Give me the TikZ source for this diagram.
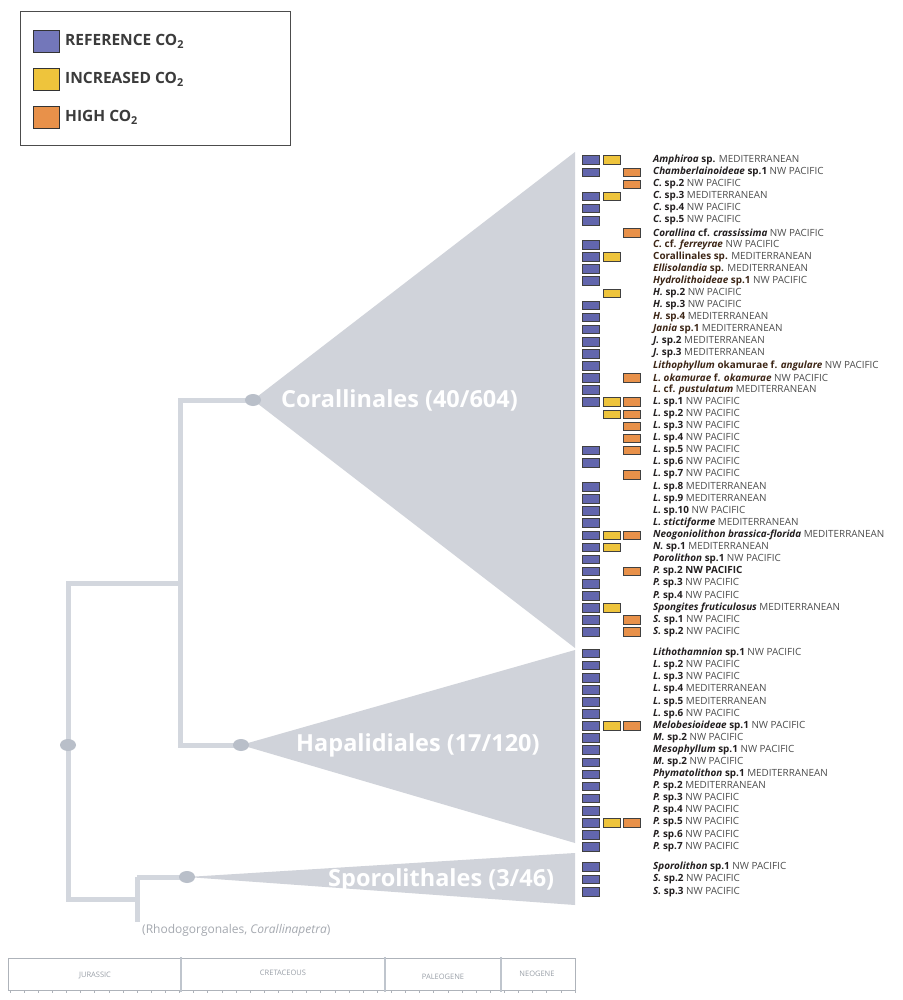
\documentclass[tikz,border=0pt]{standalone}
\usepackage{fontspec}
\setmainfont{Open Sans}
\usetikzlibrary{shapes.geometric}
\definecolor{refblue}{HTML}{6266AD}
\definecolor{legblue}{HTML}{7377BA}
\definecolor{incyel}{HTML}{EEC43C}
\definecolor{highor}{HTML}{E8914A}
\definecolor{treeline}{HTML}{D3D7DE}
\definecolor{tri}{HTML}{D0D3DA}
\definecolor{dotc}{HTML}{B9BFC9}
\definecolor{namec}{HTML}{231F20}
\definecolor{brownc}{HTML}{3D2616}
\definecolor{regc}{HTML}{4D4D4D}
\definecolor{legtext}{HTML}{3B3B3B}
\definecolor{tlc}{HTML}{AEB3BA}
\definecolor{tltext}{HTML}{9AA0A8}
\definecolor{rhodoc}{HTML}{A5A9B0}
\newcommand{\gI}[1]{\textbf{\textit{#1}}}
\newcommand{\sB}[1]{\textbf{#1}}
\newcommand{\rG}[1]{{\color{regc}#1}}
\newcommand{\brn}{\color{brownc}}
\newcommand{\sprow}[6]{%
  \ifnum#3=1 \node[refbox] (b#1) at (590.5,{#2}) {};\fi
  \ifnum#4=1 \node[incbox] (y#1) at (611.5,{#2}) {};\fi
  \ifnum#5=1 \node[highbox] (o#1) at (632,{#2}) {};\fi
  \node[spname] (t#1) at (653,{#2}) {#6};}
\tikzset{
  cbox/.style={draw=black!75, line width=0.5pt, minimum width=17pt, minimum height=8.6pt, inner sep=0pt},
  refbox/.style={cbox, fill=refblue},
  incbox/.style={cbox, fill=incyel},
  highbox/.style={cbox, fill=highor},
  legsq/.style={draw=black!80, line width=0.6pt, minimum width=26pt, minimum height=22pt, inner sep=0pt},
  legtxt/.style={anchor=west, inner sep=0pt, text=legtext, font=\fontsize{15.5}{17}\selectfont\bfseries},
  spname/.style={anchor=west, inner sep=0pt, text=namec, font=\fontsize{9.9}{11}\selectfont},
  tree/.style={draw=treeline, line width=5pt},
  cdot/.style={ellipse, fill=dotc, minimum width=16pt, minimum height=12pt, inner sep=0pt},
  cladelbl/.style={anchor=west, inner sep=0pt, text=white, font=\fontsize{23.5}{26}\selectfont\bfseries},
  tllbl/.style={inner sep=0pt, text=tltext, font=\fontsize{7.5}{8}\selectfont},
}
\begin{document}
\begin{tikzpicture}[x=1pt,y=-1pt]
\path[use as bounding box] (0,0) rectangle (902,1000);
\fill[white] (0,0) rectangle (902,1000);
% legend
\draw[draw=black!70, line width=0.8pt] (20,11) rectangle (290,145);
\node[legsq, fill=legblue] (lq1) at (46,41) {};
\node[legsq, fill=incyel] (lq2) at (46,79) {};
\node[legsq, fill=highor] (lq3) at (46,117) {};
\node[legtxt] (lt1) at (65,41) {REFERENCE CO\textsubscript{2}};
\node[legtxt] (lt2) at (65,79) {INCREASED CO\textsubscript{2}};
\node[legtxt] (lt3) at (65,117) {HIGH CO\textsubscript{2}};
% dots (positions)
\coordinate (corc) at (253,400);
\coordinate (hapc) at (241,745);
\coordinate (spoc) at (187,877);
% triangles
\fill[tri] (corc) -- (575,152) -- (575,648) -- cycle;
\fill[tri] (hapc) -- (575,650) -- (575,843) -- cycle;
\fill[tri] (spoc) -- (575,853) -- (575,905) -- cycle;
% tree
\coordinate (rt) at (68,583);
\coordinate (rb) at (68,899);
\coordinate (n1) at (180,583);
\coordinate (sb) at (137,899);
\coordinate (st) at (137,877);
\coordinate (sbot) at (137,922);
\draw[tree] (n1) -- (rt) -- (rb) -- (sb);
\draw[tree] (corc) -| (n1) |- (hapc);
\draw[tree] (st) -- (sbot);
\draw[tree] (st) -- (spoc);
\node[cdot] (root) at (68,745) {};
\node[cdot] (cor) at (corc) {};
\node[cdot] (hap) at (hapc) {};
\node[cdot] (spo) at (spoc) {};
\node[cladelbl] (corl) at (281,400) {Corallinales (40/604)};
\node[cladelbl] (hapl) at (296,745) {Hapalidiales (17/120)};
\node[cladelbl] (spol) at (328,880) {Sporolithales (3/46)};
\node[anchor=west, inner sep=0pt, text=rhodoc, font=\fontsize{12}{14}\selectfont] (rhodo) at (142,930) {(Rhodogorgonales, \textit{Corallinapetra})};
% Corallinales species
\sprow{c1}{160+12.1*0}{1}{1}{0}{\gI{Amphiroa} \sB{sp.} \rG{MEDITERRANEAN}}
\sprow{c2}{160+12.1*1}{1}{0}{1}{\gI{Chamberlainoideae} \sB{sp.1} \rG{NW PACIFIC}}
\sprow{c3}{160+12.1*2}{0}{0}{1}{\gI{C.} \sB{sp.2} \rG{NW PACIFIC}}
\sprow{c4}{160+12.1*3}{1}{1}{0}{\gI{C.} \sB{sp.3} \rG{MEDITERRANEAN}}
\sprow{c5}{160+12.1*4}{1}{0}{0}{\gI{C.} \sB{sp.4} \rG{NW PACIFIC}}
\sprow{c6}{160+12.1*5}{1}{0}{0}{\gI{C.} \sB{sp.5} \rG{NW PACIFIC}}
\sprow{c7}{160+12.1*6}{0}{0}{1}{\gI{Corallina} \sB{cf.} \gI{crassissima} \rG{NW PACIFIC}}
\sprow{c8}{160+12.1*7}{1}{0}{0}{\brn\gI{C.} \sB{cf.} \gI{ferreyrae} \rG{NW PACIFIC}}
\sprow{c9}{160+12.1*8}{1}{1}{0}{\brn\sB{Corallinales sp.} \rG{MEDITERRANEAN}}
\sprow{c10}{160+12.1*9}{1}{0}{0}{\brn\gI{Ellisolandia} \sB{sp.} \rG{MEDITERRANEAN}}
\sprow{c11}{160+12.1*10}{1}{0}{0}{\brn\gI{Hydrolithoideae} \sB{sp.1} \rG{NW PACIFIC}}
\sprow{c12}{160+12.1*11}{0}{1}{0}{\gI{H.} \sB{sp.2} \rG{NW PACIFIC}}
\sprow{c13}{160+12.1*12}{1}{0}{0}{\gI{H.} \sB{sp.3} \rG{NW PACIFIC}}
\sprow{c14}{160+12.1*13}{1}{0}{0}{\brn\gI{H.} \sB{sp.4} \rG{MEDITERRANEAN}}
\sprow{c15}{160+12.1*14}{1}{0}{0}{\brn\gI{Jania} \sB{sp.1} \rG{MEDITERRANEAN}}
\sprow{c16}{160+12.1*15}{1}{0}{0}{\gI{J.} \sB{sp.2} \rG{MEDITERRANEAN}}
\sprow{c17}{160+12.1*16}{1}{0}{0}{\gI{J.} \sB{sp.3} \rG{MEDITERRANEAN}}
\sprow{c18}{160+12.1*17}{1}{0}{0}{\brn\gI{Lithophyllum} \sB{okamurae f.} \gI{angulare} \rG{NW PACIFIC}}
\sprow{c19}{160+12.1*18}{1}{0}{1}{\brn\gI{L. okamurae} \sB{f.} \gI{okamurae} \rG{NW PACIFIC}}
\sprow{c20}{160+12.1*19}{1}{0}{0}{\brn\gI{L.} \sB{cf.} \gI{pustulatum} \rG{MEDITERRANEAN}}
\sprow{c21}{160+12.1*20}{1}{1}{1}{\gI{L.} \sB{sp.1} \rG{NW PACIFIC}}
\sprow{c22}{160+12.1*21}{0}{1}{1}{\gI{L.} \sB{sp.2} \rG{NW PACIFIC}}
\sprow{c23}{160+12.1*22}{0}{0}{1}{\gI{L.} \sB{sp.3} \rG{NW PACIFIC}}
\sprow{c24}{160+12.1*23}{0}{0}{1}{\gI{L.} \sB{sp.4} \rG{NW PACIFIC}}
\sprow{c25}{160+12.1*24}{1}{0}{1}{\gI{L.} \sB{sp.5} \rG{NW PACIFIC}}
\sprow{c26}{160+12.1*25}{1}{0}{0}{\gI{L.} \sB{sp.6} \rG{NW PACIFIC}}
\sprow{c27}{160+12.1*26}{0}{0}{1}{\gI{L.} \sB{sp.7} \rG{NW PACIFIC}}
\sprow{c28}{160+12.1*27}{1}{0}{0}{\gI{L.} \sB{sp.8} \rG{MEDITERRANEAN}}
\sprow{c29}{160+12.1*28}{1}{0}{0}{\gI{L.} \sB{sp.9} \rG{MEDITERRANEAN}}
\sprow{c30}{160+12.1*29}{1}{0}{0}{\gI{L.} \sB{sp.10} \rG{NW PACIFIC}}
\sprow{c31}{160+12.1*30}{1}{0}{0}{\gI{L. stictiforme} \rG{MEDITERRANEAN}}
\sprow{c32}{160+12.1*31}{1}{1}{1}{\gI{Neogoniolithon brassica-florida} \rG{MEDITERRANEAN}}
\sprow{c33}{160+12.1*32}{1}{1}{0}{\gI{N.} \sB{sp.1} \rG{MEDITERRANEAN}}
\sprow{c34}{160+12.1*33}{1}{0}{0}{\gI{Porolithon} \sB{sp.1} \rG{NW PACIFIC}}
\sprow{c35}{160+12.1*34}{1}{0}{1}{\gI{P.} \sB{sp.2} \sB{NW PACIFIC}}
\sprow{c36}{160+12.1*35}{1}{0}{0}{\gI{P.} \sB{sp.3} \rG{NW PACIFIC}}
\sprow{c37}{160+12.1*36}{1}{0}{0}{\gI{P.} \sB{sp.4} \rG{NW PACIFIC}}
\sprow{c38}{160+12.1*37}{1}{1}{0}{\gI{Spongites fruticulosus} \rG{MEDITERRANEAN}}
\sprow{c39}{160+12.1*38}{1}{0}{1}{\gI{S.} \sB{sp.1} \rG{NW PACIFIC}}
\sprow{c40}{160+12.1*39}{1}{0}{1}{\gI{S.} \sB{sp.2} \rG{NW PACIFIC}}
% Hapalidiales species
\sprow{h1}{653.3+12.09*0}{1}{0}{0}{\gI{Lithothamnion} \sB{sp.1} \rG{NW PACIFIC}}
\sprow{h2}{653.3+12.09*1}{1}{0}{0}{\gI{L.} \sB{sp.2} \rG{NW PACIFIC}}
\sprow{h3}{653.3+12.09*2}{1}{0}{0}{\gI{L.} \sB{sp.3} \rG{NW PACIFIC}}
\sprow{h4}{653.3+12.09*3}{1}{0}{0}{\gI{L.} \sB{sp.4} \rG{MEDITERRANEAN}}
\sprow{h5}{653.3+12.09*4}{1}{0}{0}{\gI{L.} \sB{sp.5} \rG{MEDITERRANEAN}}
\sprow{h6}{653.3+12.09*5}{1}{0}{0}{\gI{L.} \sB{sp.6} \rG{NW PACIFIC}}
\sprow{h7}{653.3+12.09*6}{1}{1}{1}{\gI{Melobesioideae} \sB{sp.1} \rG{NW PACIFIC}}
\sprow{h8}{653.3+12.09*7}{1}{0}{0}{\gI{M.} \sB{sp.2} \rG{NW PACIFIC}}
\sprow{h9}{653.3+12.09*8}{1}{0}{0}{\gI{Mesophyllum} \sB{sp.1} \rG{NW PACIFIC}}
\sprow{h10}{653.3+12.09*9}{1}{0}{0}{\gI{M.} \sB{sp.2} \rG{NW PACIFIC}}
\sprow{h11}{653.3+12.09*10}{1}{0}{0}{\gI{Phymatolithon} \sB{sp.1} \rG{MEDITERRANEAN}}
\sprow{h12}{653.3+12.09*11}{1}{0}{0}{\gI{P.} \sB{sp.2} \rG{MEDITERRANEAN}}
\sprow{h13}{653.3+12.09*12}{1}{0}{0}{\gI{P.} \sB{sp.3} \rG{NW PACIFIC}}
\sprow{h14}{653.3+12.09*13}{1}{0}{0}{\gI{P.} \sB{sp.4} \rG{NW PACIFIC}}
\sprow{h15}{653.3+12.09*14}{1}{1}{1}{\gI{P.} \sB{sp.5} \rG{NW PACIFIC}}
\sprow{h16}{653.3+12.09*15}{1}{0}{0}{\gI{P.} \sB{sp.6} \rG{NW PACIFIC}}
\sprow{h17}{653.3+12.09*16}{1}{0}{0}{\gI{P.} \sB{sp.7} \rG{NW PACIFIC}}
% Sporolithales species
\sprow{s1}{866.7}{1}{0}{0}{\gI{Sporolithon} \sB{sp.1} \rG{NW PACIFIC}}
\sprow{s2}{879.3}{1}{0}{0}{\gI{S.} \sB{sp.2} \rG{NW PACIFIC}}
\sprow{s3}{891.7}{1}{0}{0}{\gI{S.} \sB{sp.3} \rG{NW PACIFIC}}
% timeline
\draw[draw=tlc, line width=0.9pt] (8,958) rectangle (575,990);
\foreach \k in {0,...,40} \draw[draw=tlc, line width=0.6pt] ({10+14.125*\k},990) -- ++(0,2.5);
\draw[draw=tlc!110!black, line width=2pt] (181,957) -- (181,992);
\draw[draw=tlc!110!black, line width=2pt] (385,957) -- (385,992);
\draw[draw=tlc!110!black, line width=2pt] (501,957) -- (501,992);
\node[tllbl] (jur) at (95,975) {JURASSIC};
\node[tllbl] (cre) at (283,973) {CRETACEOUS};
\node[tllbl] (pal) at (443,977) {PALEOGENE};
\node[tllbl] (neo) at (537,974) {NEOGENE};
\end{tikzpicture}
\end{document}
